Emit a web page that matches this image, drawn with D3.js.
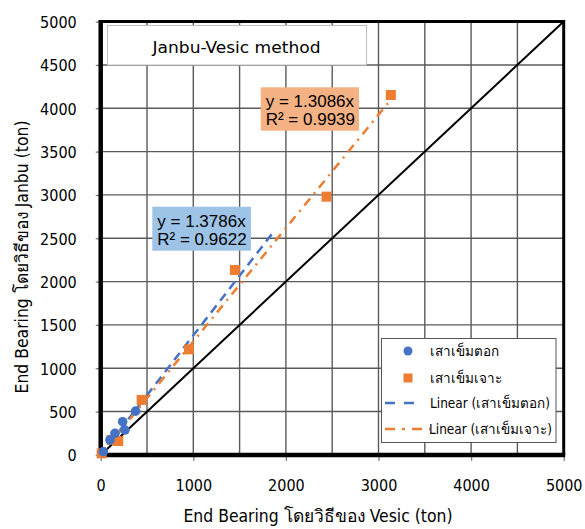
<!DOCTYPE html>
<html><head><meta charset="utf-8">
<script src="https://cdn.jsdelivr.net/npm/d3@7"></script>
<style>
html,body{margin:0;padding:0;background:#fff;}
svg text{font-family:"DejaVu Sans Condensed","DejaVu Sans",sans-serif;font-stretch:condensed;}
</style></head>
<body><svg id="c" width="585" height="529"></svg>
<script>
// ---- data ----
const drivenX = [28, 100, 154, 262, 237, 377];
const drivenY = [37, 172, 249, 287, 383, 505];
const boredX = [11, 119, 190, 442, 953, 1449, 2439, 3133];
const boredY = [18, 172, 160, 634, 1218, 2134, 2980, 4153];
const drivenSlope = 1.3786, drivenR2 = 0.9622, drivenTrendMax = 1850;
const boredSlope = 1.3086, boredR2 = 0.9939, boredTrendMax = 3133;
const axisTicks = [0, 1000, 2000, 3000, 4000, 5000];
const yTicks = [0, 500, 1000, 1500, 2000, 2500, 3000, 3500, 4000, 4500, 5000];
const gridVals = [500, 1000, 1500, 2000, 2500, 3000, 3500, 4000, 4500];
const seriesNames = ["เสาเข็มตอก", "เสาเข็มเจาะ", "Linear (เสาเข็มตอก)", "Linear (เสาเข็มเจาะ)"];
const chartTitle = "Janbu-Vesic method";
const xTitle = "End Bearing โดยวิธีของ Vesic (ton)";
const yTitle = "End Bearing โดยวิธีของ Janbu (ton)";

const blue = "#4472C4", orange = "#ED7D31";
const svg = d3.select("#c");
const x = d3.scaleLinear().domain([0, 5000]).range([100.7, 563.7]);
const y = d3.scaleLinear().domain([0, 5000]).range([454.9, 21.6]);

// grid
const g = svg.append("g");
g.selectAll(".vg").data(gridVals).join("line")
  .attr("x1", d => x(d)).attr("x2", d => x(d)).attr("y1", y(0)).attr("y2", y(5000))
  .attr("stroke", "#5a5a5a").attr("stroke-width", 1.4);
g.selectAll(".hg").data(gridVals).join("line")
  .attr("y1", d => y(d)).attr("y2", d => y(d)).attr("x1", x(0)).attr("x2", x(5000))
  .attr("stroke", "#5a5a5a").attr("stroke-width", 1.4);

// axes (ticks + labels)
const xAxis = d3.axisBottom(x).tickValues(axisTicks).tickSize(6).tickPadding(19).tickFormat(d3.format("d"));
const yAxis = d3.axisLeft(y).tickValues(yTicks).tickSize(5).tickPadding(19).tickFormat(d3.format("d"));
const gx = svg.append("g").attr("transform", `translate(0,${y(0)})`).call(xAxis);
const gy = svg.append("g").attr("transform", `translate(${x(0)},0)`).call(yAxis);
[gx, gy].forEach(a => {
  a.select(".domain").remove();
  a.selectAll(".tick line").attr("stroke", "#7f7f7f").attr("stroke-width", 1.3);
  a.selectAll(".tick text").attr("font-size", 16).attr("fill", "#000")
    .style("font-family", '"DejaVu Sans Condensed","DejaVu Sans",sans-serif');
});
gy.selectAll(".tick text").attr("dy", "0.36em");

// y = x reference line
svg.append("line").attr("x1", x(0)).attr("y1", y(0)).attr("x2", x(5000)).attr("y2", y(5000))
  .attr("stroke", "#000").attr("stroke-width", 2);

// frame
svg.append("line").attr("x1", x(0)).attr("x2", x(5000)).attr("y1", y(5000)).attr("y2", y(5000)).attr("stroke", "#000").attr("stroke-width", 3);
svg.append("line").attr("x1", x(5000)).attr("x2", x(5000)).attr("y1", y(5000) - 1.5).attr("y2", y(0)).attr("stroke", "#000").attr("stroke-width", 3);
svg.append("line").attr("x1", x(0)).attr("x2", x(0)).attr("y1", y(5000) - 1.5).attr("y2", y(0) + 2).attr("stroke", "#000").attr("stroke-width", 4.5);
svg.append("line").attr("x1", x(0) - 2).attr("x2", x(5000) + 1.5).attr("y1", y(0)).attr("y2", y(0)).attr("stroke", "#000").attr("stroke-width", 4.5);

// trendlines
svg.append("line").attr("x1", x(0)).attr("y1", y(0)).attr("x2", x(drivenTrendMax)).attr("y2", y(drivenSlope * drivenTrendMax))
  .attr("stroke", blue).attr("stroke-width", 2.5).attr("stroke-dasharray", "9,6");
svg.append("line").attr("x1", x(0)).attr("y1", y(0)).attr("x2", x(boredTrendMax)).attr("y2", y(boredSlope * boredTrendMax))
  .attr("stroke", orange).attr("stroke-width", 2.5).attr("stroke-dasharray", "9,6,2,6");

// points
svg.selectAll(".bp").data(boredX.map((d, i) => [d, boredY[i]])).join("rect")
  .attr("x", d => x(d[0]) - 5).attr("y", d => y(d[1]) - 5).attr("width", 10).attr("height", 10)
  .attr("fill", orange);
svg.selectAll(".dp").data(drivenX.map((d, i) => [d, drivenY[i]])).join("circle")
  .attr("cx", d => x(d[0])).attr("cy", d => y(d[1])).attr("r", 4.8)
  .attr("fill", blue);

// title box
svg.append("rect").attr("x", 107.5).attr("y", 25.5).attr("width", 259).attr("height", 39.5)
  .attr("fill", "#fff").attr("stroke", "#bfbfbf").attr("stroke-width", 1);
svg.append("text").attr("x", 236.5).attr("y", 53).attr("text-anchor", "middle").attr("font-size", 16.5)
  .attr("textLength", 168).attr("lengthAdjust", "spacingAndGlyphs").text(chartTitle);

// equation labels
function eq(bx, by, bw, bh, fill, slope, r2) {
  svg.append("rect").attr("x", bx).attr("y", by).attr("width", bw).attr("height", bh).attr("fill", fill);
  const t = svg.append("text").style("font-family", '"Liberation Sans",Arial,sans-serif').attr("font-size", 17).attr("fill", "#000");
  t.append("tspan").attr("x", bx + 5).attr("y", by + 20).text(`y = ${slope.toFixed(4)}x`);
  t.append("tspan").attr("x", bx + 5).attr("y", by + 38).text(`R² = ${r2.toFixed(4)}`);
}
eq(152.3, 206.7, 98.7, 44, "#9DC3E6", drivenSlope, drivenR2);
eq(260.7, 87.3, 98.3, 43.4, "#F4B183", boredSlope, boredR2);

// legend
const lg = svg.append("g");
lg.append("rect").attr("x", 381.5).attr("y", 338.5).attr("width", 174.5).attr("height", 104)
  .attr("fill", "#fff").attr("stroke", "#555").attr("stroke-width", 1);
const rowsY = [351, 378, 403, 429];
lg.append("circle").attr("cx", 408).attr("cy", rowsY[0]).attr("r", 4.5).attr("fill", blue);
lg.append("rect").attr("x", 403.5).attr("y", rowsY[1] - 4.5).attr("width", 9).attr("height", 9).attr("fill", orange);
lg.append("line").attr("x1", 385).attr("x2", 418).attr("y1", rowsY[2]).attr("y2", rowsY[2])
  .attr("stroke", blue).attr("stroke-width", 2.5).attr("stroke-dasharray", "10,9");
lg.append("line").attr("x1", 385).attr("x2", 430).attr("y1", rowsY[3]).attr("y2", rowsY[3])
  .attr("stroke", orange).attr("stroke-width", 2.5).attr("stroke-dasharray", "10,7,3,7");
seriesNames.forEach((n, i) => {
  lg.append("text").attr("x", i === 3 ? 429 : 430).attr("y", rowsY[i] + 5).attr("font-size", 13.5).text(n);
});

// axis titles
svg.append("text").attr("x", 318).attr("y", 522).attr("text-anchor", "middle").attr("font-size", 17.4).text(xTitle);
svg.append("text").attr("transform", "translate(28,257) rotate(-90)").attr("text-anchor", "middle").attr("font-size", 17.4).text(yTitle);
</script></body></html>
